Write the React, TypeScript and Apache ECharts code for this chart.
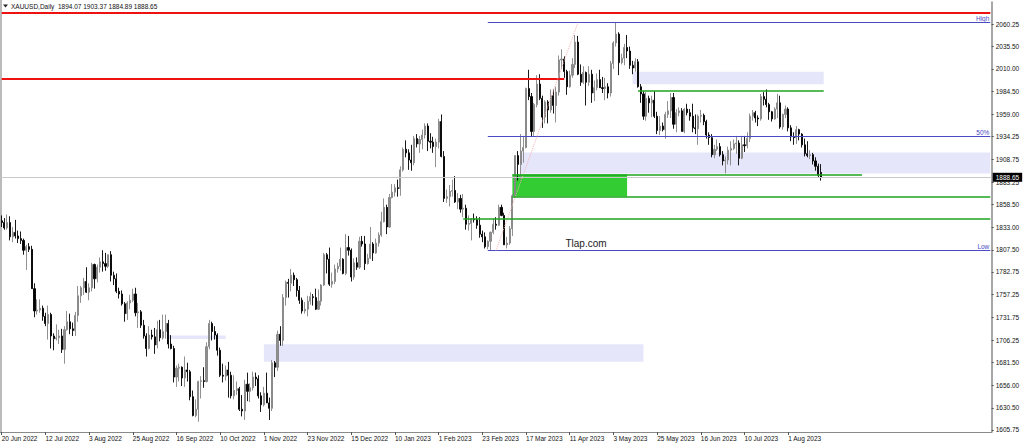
import { useEffect, useRef } from "react";
import * as echarts from "echarts";

// ---- category ticks (one label every 16 bars) ----
const dateTickLabels = [
  "20 Jun 2022", "12 Jul 2022", "3 Aug 2022", "25 Aug 2022", "16 Sep 2022",
  "10 Oct 2022", "1 Nov 2022", "23 Nov 2022", "15 Dec 2022", "10 Jan 2023",
  "1 Feb 2023", "23 Feb 2023", "17 Mar 2023", "11 Apr 2023", "3 May 2023",
  "25 May 2023", "16 Jun 2023", "10 Jul 2023", "1 Aug 2023",
];
const BARS_PER_DATE_TICK = 16;
const SLOT_COUNT = 363; // bars plus the empty space on the right

// ---- price scale labels ----
const priceTicks = [
  2060.25, 2035.5, 2010.0, 1984.5, 1959.0, 1934.25, 1908.75, 1883.25, 1858.5,
  1833.0, 1807.5, 1782.75, 1757.25, 1731.75, 1706.25, 1681.5, 1656.0, 1630.5, 1605.75,
];
const priceMin = 1603.51;
const priceMax = 2084.88;

// ---- daily bars: [open, high, low, close] ----
const ohlc: number[][] = [
  [1840,1846,1833,1838],[1838,1843,1830,1832],[1832,1847,1830,1838],[1838,1845,1818,1822],[1822,1833,1816,1827],
  [1827,1841,1820,1823],[1823,1829,1815,1820],[1820,1828,1814,1818],[1818,1820,1802,1807],[1807,1813,1785,1811],
  [1811,1815,1805,1808],[1808,1812,1764,1764],[1764,1770,1732,1739],[1739,1752,1735,1740],[1740,1752,1737,1742],
  [1742,1745,1728,1733],[1733,1737,1722,1725],[1725,1745,1707,1735],[1735,1737,1697,1711],[1711,1714,1695,1708],
  [1708,1724,1706,1709],[1709,1718,1702,1711],[1711,1719,1692,1696],[1696,1722,1680,1718],[1718,1739,1717,1727],
  [1727,1736,1713,1719],[1719,1726,1711,1717],[1717,1738,1711,1734],[1734,1767,1727,1756],[1756,1767,1748,1765],
  [1765,1776,1757,1772],[1772,1788,1759,1760],[1760,1770,1751,1765],[1765,1793,1761,1791],[1791,1792,1764,1775],
  [1775,1791,1771,1788],[1788,1799,1782,1794],[1794,1807,1783,1792],[1792,1804,1784,1789],[1789,1802,1787,1802],
  [1802,1806,1772,1779],[1779,1783,1768,1775],[1775,1781,1759,1761],[1761,1765,1753,1758],[1758,1762,1745,1747],
  [1747,1749,1727,1736],[1736,1750,1729,1748],[1748,1757,1741,1751],[1751,1764,1749,1758],[1758,1765,1733,1737],
  [1737,1748,1720,1738],[1738,1740,1720,1723],[1723,1729,1708,1711],[1711,1714,1688,1697],[1697,1722,1696,1712],
  [1712,1718,1707,1710],[1710,1720,1691,1701],[1701,1728,1697,1718],[1718,1729,1705,1709],[1709,1735,1707,1716],
  [1716,1735,1708,1725],[1725,1729,1697,1702],[1702,1712,1696,1697],[1697,1700,1659,1665],[1665,1678,1654,1675],
  [1675,1680,1660,1676],[1676,1677,1655,1664],[1664,1688,1654,1673],[1673,1681,1660,1671],[1671,1673,1639,1643],
  [1643,1650,1621,1622],[1622,1640,1620,1629],[1629,1661,1615,1660],[1660,1666,1641,1661],[1661,1676,1653,1660],
  [1660,1704,1659,1699],[1699,1729,1696,1725],[1725,1727,1706,1716],[1716,1722,1707,1712],[1712,1714,1689,1695],
  [1695,1698,1665,1667],[1667,1680,1659,1666],[1666,1678,1661,1673],[1673,1682,1642,1667],[1667,1671,1641,1644],
  [1644,1667,1640,1650],[1650,1660,1645,1652],[1652,1654,1627,1629],[1629,1645,1621,1627],[1627,1662,1617,1657],
  [1657,1670,1638,1649],[1649,1658,1637,1653],[1653,1671,1650,1665],[1665,1670,1655,1663],[1663,1667,1641,1644],
  [1644,1648,1626,1634],[1634,1654,1632,1647],[1647,1670,1636,1636],[1636,1642,1617,1630],[1630,1684,1627,1681],
  [1681,1683,1665,1676],[1676,1717,1672,1713],[1713,1722,1700,1706],[1706,1758,1700,1754],[1754,1773,1745,1771],
  [1771,1775,1754,1770],[1770,1786,1761,1779],[1779,1782,1767,1774],[1774,1776,1755,1762],[1762,1767,1747,1751],
  [1751,1754,1736,1739],[1739,1749,1736,1741],[1741,1756,1733,1750],[1750,1760,1746,1755],[1755,1758,1745,1754],
  [1754,1764,1740,1741],[1741,1763,1740,1750],[1750,1769,1745,1768],[1768,1804,1767,1802],[1802,1804,1781,1797],
  [1797,1810,1767,1769],[1769,1782,1765,1772],[1772,1791,1769,1786],[1786,1793,1782,1789],[1789,1810,1784,1797],
  [1797,1798,1780,1781],[1781,1825,1779,1810],[1810,1823,1801,1807],[1807,1809,1772,1777],[1777,1798,1774,1793],
  [1793,1799,1785,1788],[1788,1822,1786,1817],[1817,1823,1811,1814],[1814,1823,1785,1792],[1792,1803,1791,1798],
  [1798,1833,1797,1814],[1814,1816,1795,1804],[1804,1820,1803,1815],[1815,1827,1811,1824],
  [1824,1850,1822,1839],[1839,1865,1838,1855],[1855,1858,1825,1833],[1833,1870,1832,1866],
  [1866,1881,1865,1872],[1872,1881,1867,1877],[1877,1886,1867,1876],[1876,1901,1868,1897],[1897,1922,1895,1920],
  [1920,1930,1911,1916],[1916,1920,1897,1908],[1908,1925,1896,1905],[1905,1935,1902,1932],[1932,1937,1922,1926],
  [1926,1935,1916,1931],[1931,1942,1920,1936],[1936,1949,1932,1946],[1946,1949,1918,1929],[1929,1938,1921,1928],
  [1928,1934,1916,1923],[1923,1932,1900,1928],[1928,1954,1921,1951],[1951,1959,1911,1912],[1912,1918,1861,1865],
  [1865,1875,1860,1867],[1867,1880,1856,1873],[1873,1886,1867,1874],[1874,1890,1860,1861],[1861,1871,1853,1865],
  [1865,1869,1849,1853],[1853,1870,1844,1854],[1854,1858,1830,1836],[1836,1846,1829,1837],[1837,1843,1818,1842],
  [1842,1848,1838,1841],[1841,1845,1831,1835],[1835,1844,1821,1825],[1825,1829,1816,1822],[1822,1827,1809,1811],
  [1811,1818,1808,1817],[1817,1828,1806.5,1827],[1827,1843,1825,1836],[1836,1844,1830,1835],[1835,1858,1834,1855],
  [1855,1858,1845,1846],[1846,1849,1813,1813],[1813,1822,1809,1815],[1815,1834,1813,1831],[1831,1870,1823,1868],
  [1868,1913,1866,1913],[1913,1918,1885,1903],[1903,1937,1886,1918],[1918,1935,1905,1922],[1922,1989,1921,1988],
  [1988,2009,1975,1979],[1979,1983,1934,1940],[1940,1972,1935,1970],[1970,2003,1967,1993],[1993,2004,1975,1977],
  [1977,1980,1944,1956],[1956,1975,1949,1973],[1973,1975,1949,1964],[1964,1987,1961,1980],[1980,1987,1960,1969],
  [1969,1990,1950,1984],[1984,2025,1980,2020],[2020,2032,2010,2021],[2021,2024,2000,2007],
  [2007,2009,1981,1990],[1990,2008,1989,2003],[2003,2022,2000,2015],[2015,2048,2011,2040],[2040,2047,2003,2004],
  [2004,2015,1991,1995],[1995,2013,1993,2006],[2006,2007,1969,1995],[1995,2013,1991,2004],[2004,2009,1972,1983],
  [1983,1997,1974,1989],[1989,2005,1986,1998],[1998,2009,1990,1989],[1989,2001,1983,1988],[1988,2000,1975,1990],
  [1990,1994,1977,1983],[1983,2019,1979,2016],[2016,2041,2010,2039],[2039,2061.9,2035,2049],[2049,2051,2003,2017],
  [2017,2027,2015,2022],[2022,2038,2014,2034],[2034,2048,2022,2030],[2030,2035,2010,2014],[2014,2019,2004,2011],
  [2011,2022,2007,2018],[2018,2021,1989,1990],[1990,1993,1972,1982],[1982,1985,1953,1957],[1957,1984,1952,1977],
  [1977,1980,1961,1972],[1972,1980,1956,1975],[1975,1985,1955,1957],[1957,1962,1937,1941],[1941,1957,1936,1946],
  [1946,1950,1940,1942],[1942,1962,1932,1959],[1959,1974,1955,1963],[1963,1983,1955,1978],[1978,1983,1943,1948],
  [1948,1965,1939,1961],[1961,1967,1957,1963],[1963,1966,1940,1940],[1940,1966,1938,1965],[1965,1971,1958,1961],
  [1961,1965,1952,1957],[1957,1971,1939,1944],[1944,1959,1937,1943],[1943,1959,1925,1957],[1957,1964,1950,1958],
  [1958,1960,1947,1951],[1951,1953,1932,1936],[1936,1939,1925,1933],[1933,1937,1911,1914],[1914,1925,1910,1920],
  [1920,1931,1918,1923],[1923,1927,1912,1914],[1914,1918,1902,1907],[1907,1912,1893,1908],[1908,1923,1903,1919],
  [1919,1929,1902,1921],[1921,1931,1919,1926],[1926,1935,1915,1927],[1927,1930,1902,1910],[1910,1935,1909,1925],
  [1925,1935,1917,1924],[1924,1939,1921,1932],[1932,1960,1928,1957],[1957,1964,1952,1961],[1961,1963,1950,1955],
  [1955,1958,1946,1954],[1954,1982,1952,1979],[1979,1984,1969,1976],[1976,1987,1967,1970],[1970,1972,1953,1962],
  [1962,1963,1951,1954],[1954,1967,1953,1965],[1965,1982,1955,1972],[1972,1980,1943,1945],[1945,1960,1942,1959],
  [1959,1969,1955,1965],[1965,1967,1940,1944],[1944,1947,1929,1934],[1934,1939,1925,1933],[1933,1946,1926,1942],
  [1942,1943,1930,1937],[1937,1938,1922,1925],[1925,1932,1912,1915],[1915,1929,1911,1913],[1913,1919,1909,1914],
  [1914,1916,1903,1907],[1907,1911,1896,1901],[1901,1904,1888,1891],[1894.07,1903.37,1884.89,1888.65],
];

// ---- drawn objects (bar index / price) ----
const topRedLevel = 2072.57;
const redLevel = { price: 1998.68, from: 0, to: 206 };
const fibo = { from: 178, to: 362, high: 2061.93, low: 1806.69 };
const fiboMid = (fibo.high + fibo.low) / 2;
const fiboTrend = { from: 181, to: 211 };
const greenLines = [
  { price: 1985.25, from: 233, to: 301 },
  { price: 1891.77, from: 187, to: 315 },
  { price: 1867.13, from: 187, to: 362 },
  { price: 1842.51, from: 169, to: 362 },
];
const greenZones = [{ from: 187, to: 229, top: 1891.77, bottom: 1867.13 }];
const lavenderZones = [
  { from: 231, to: 301, top: 2006.9, bottom: 1992.8 },
  { from: 190, to: 362, top: 1916.3, bottom: 1893.0 },
  { from: 61, to: 82, top: 1711.5, bottom: 1707.6 },
  { from: 96, to: 235, top: 1701.7, bottom: 1682.2 },
];

const FONT = '"Liberation Sans", Arial, sans-serif';
const RED = "#ee1111";
const BLUE = "#4a4ac4";
const GREEN = "#1ea51e";

export default function App() {
  const ref = useRef<HTMLDivElement>(null);

  useEffect(() => {
    if (!ref.current) return;
    const chart = echarts.init(ref.current, undefined, { renderer: "svg" });

    const categories = Array.from({ length: SLOT_COUNT }, (_, i) => String(i));
    const candleData = ohlc.map(([o, h, l, c]) => [o, c, l, h]);
    const last = ohlc[ohlc.length - 1];
    const bid = last[3];
    const title = `XAUUSD,Daily  ${last.map((v) => v.toFixed(2)).join(" ")}`;

    const showDateTick = (index: number) =>
      index % BARS_PER_DATE_TICK === 0 && index / BARS_PER_DATE_TICK < dateTickLabels.length;

    const hLine = (price: number, from: number, to: number, color: string, width: number, extra: any = {}) => [
      { xAxis: from, yAxis: price, lineStyle: { color, width, type: "solid", opacity: 1 }, ...extra },
      { xAxis: to, yAxis: price },
    ];
    const fiboLabel = (text: string) => ({
      label: {
        show: true,
        position: "insideEndTop",
        formatter: text,
        color: BLUE,
        fontSize: 6.5,
        fontFamily: FONT,
        distance: 1,
      },
    });

    const markLineData: any[] = [
      hLine(topRedLevel, 0, 362, RED, 2),
      hLine(redLevel.price, redLevel.from, redLevel.to, RED, 2),
      hLine(fibo.high, fibo.from, fibo.to, BLUE, 1, fiboLabel("High")),
      hLine(fiboMid, fibo.from, fibo.to, BLUE, 1, fiboLabel("50%")),
      hLine(fibo.low, fibo.from, fibo.to, BLUE, 1, fiboLabel("Low")),
      [
        { xAxis: fiboTrend.from, yAxis: fibo.low, lineStyle: { color: "#f2b4b4", width: 1, type: "dotted" } },
        { xAxis: fiboTrend.to, yAxis: fibo.high },
      ],
      ...greenLines.map((g) => hLine(g.price, g.from, g.to, GREEN, 1.5)),
      {
        yAxis: bid,
        lineStyle: { color: "#c8c8c8", width: 1, type: "solid" },
        label: {
          show: true,
          position: "end",
          formatter: () => bid.toFixed(2),
          color: "#ffffff",
          backgroundColor: "#000000",
          fontSize: 6.5,
          fontFamily: FONT,
          padding: [1, 3, 1, 3],
          distance: 1,
        },
      },
    ];

    const markAreaData: any[] = [
      ...lavenderZones.map((z) => [
        { xAxis: z.from, yAxis: z.top, itemStyle: { color: "#e6e6fa" } },
        { xAxis: z.to, yAxis: z.bottom },
      ]),
      ...greenZones.map((z) => [
        { xAxis: z.from, yAxis: z.top, itemStyle: { color: "#33cc33" } },
        { xAxis: z.to, yAxis: z.bottom },
      ]),
    ];

    chart.setOption({
      animation: false,
      backgroundColor: "#ffffff",
      grid: {
        left: 0.33,
        top: 2,
        width: 991.35,
        height: 430,
        containLabel: false,
        outerBoundsMode: "none",
      },
      xAxis: {
        type: "category",
        data: categories,
        boundaryGap: true,
        axisLine: { show: true, lineStyle: { color: "#8a8a8a", width: 1 } },
        axisTick: {
          show: true,
          interval: (index: number) => showDateTick(index),
          alignWithLabel: true,
          length: 3,
          lineStyle: { color: "#555" },
        },
        axisLabel: {
          show: true,
          interval: (index: number) => showDateTick(index),
          formatter: (_v: string, index: number) => dateTickLabels[index / BARS_PER_DATE_TICK] ?? "",
          align: "left",
          margin: 3,
          fontSize: 6.5,
          fontFamily: FONT,
          color: "#111",
        },
        splitLine: { show: false },
      },
      yAxis: {
        type: "value",
        position: "right",
        min: priceMin,
        max: priceMax,
        scale: true,
        axisLine: { show: true, lineStyle: { color: "#8a8a8a", width: 1.5 } },
        axisTick: { show: true, length: 2, customValues: priceTicks, lineStyle: { color: "#555" } },
        axisLabel: {
          show: true,
          showMinLabel: true,
          showMaxLabel: true,
          customValues: priceTicks,
          formatter: (v: number) => v.toFixed(2),
          margin: 4,
          fontSize: 6.5,
          fontFamily: FONT,
          color: "#111",
        },
        splitLine: { show: false },
      },
      series: [
        {
          type: "candlestick",
          data: candleData,
          barWidth: 1.6,
          itemStyle: {
            color: "#8e8e8e",
            color0: "#000000",
            borderColor: "#858585",
            borderColor0: "#000000",
            borderWidth: 0.9,
          },
          markArea: { silent: true, z: 1, data: markAreaData },
          markLine: {
            silent: true,
            symbol: ["none", "none"],
            label: { show: false },
            data: markLineData,
          },
        },
      ],
      graphic: [
        { type: "line", shape: { x1: 1, y1: 0, x2: 1, y2: 432 }, style: { stroke: "#777", lineWidth: 1 } },
        { type: "polygon", shape: { points: [[3, 4.5], [8, 4.5], [5.5, 7.5]] }, style: { fill: "#222" } },
        {
          type: "text",
          x: 11,
          y: 6,
          style: { text: title, font: `6.5px ${FONT}`, fill: "#111", verticalAlign: "middle" },
        },
        {
          type: "text",
          x: 586,
          y: 243,
          style: {
            text: "Tlap.com",
            font: `10px ${FONT}`,
            fill: "#222",
            align: "center",
            verticalAlign: "middle",
          },
        },
      ],
    });

    return () => chart.dispose();
  }, []);

  return (
    <div
      ref={ref}
      style={{ position: "fixed", left: 0, top: 0, width: 1024, height: 446, background: "#fff" }}
    />
  );
}
